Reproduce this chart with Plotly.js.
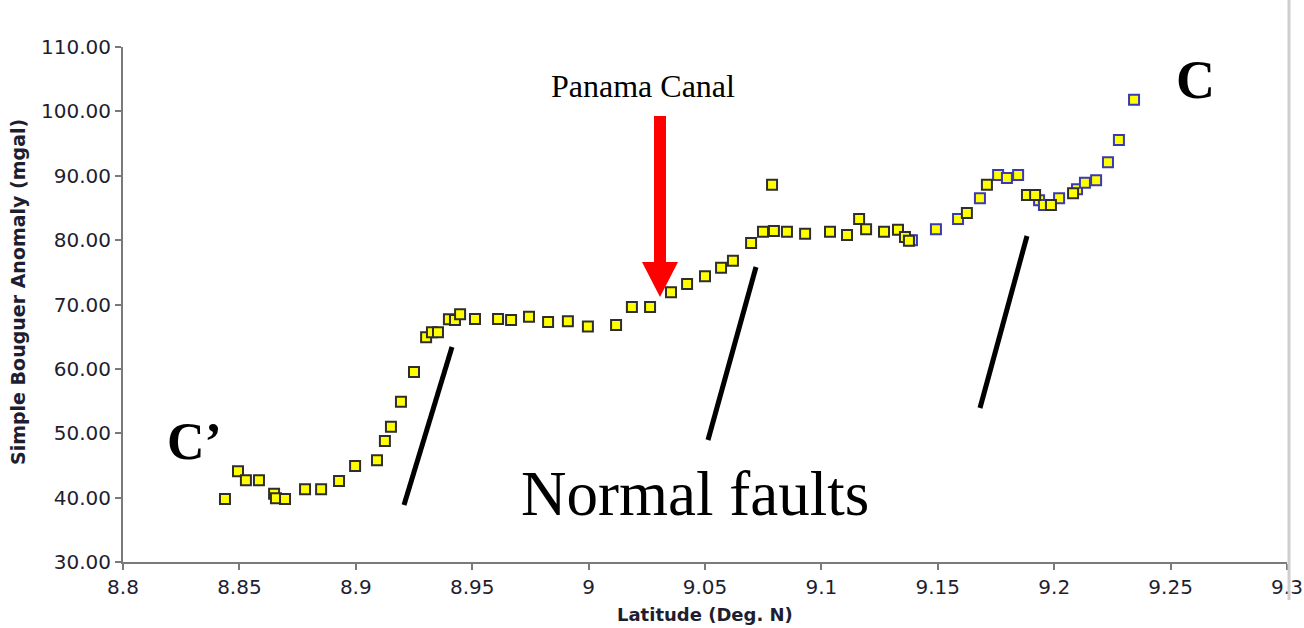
<!DOCTYPE html>
<html>
<head>
<meta charset="utf-8">
<script src="https://cdn.plot.ly/plotly-3.0.1.min.js"></script>
<style>html,body{margin:0;padding:0;background:#fff}#chart{width:1304px;height:628px}</style>
</head>
<body>
<div id="chart"></div>
<script>
// Series with dark-bordered markers
const latBlack = [8.8438, 8.8494, 8.8528, 8.8584, 8.8649, 8.8657, 8.8696, 8.8782, 8.8851, 8.8928,
  8.8997, 8.9091, 8.9125, 8.9151, 8.9194, 8.9250, 8.9302, 8.9327, 8.9353, 8.9400,
  8.9426, 8.9448, 8.9512, 8.9611, 8.9667, 8.9744, 8.9826, 8.9911, 8.9997, 9.0118,
  9.0186, 9.0264, 9.0354, 9.0423, 9.0500, 9.0569, 9.0620, 9.0698, 9.0749, 9.0788,
  9.0796, 9.0852, 9.0930, 9.1037, 9.1110, 9.1162, 9.1192, 9.1269, 9.1329, 9.1359,
  9.1376, 9.1625, 9.1711, 9.1883, 9.1918, 9.1986, 9.2081];
const sbaBlack = [39.8, 44.1, 42.7, 42.7, 40.6, 39.9, 39.8, 41.3, 41.3, 42.6,
  44.9, 45.8, 48.8, 51.0, 54.9, 59.5, 64.9, 65.7, 65.7, 67.7,
  67.6, 68.5, 67.75, 67.75, 67.6, 68.1, 67.3, 67.4, 66.6, 66.8,
  69.6, 69.6, 71.9, 73.2, 74.4, 75.7, 76.8, 79.55, 81.3, 88.6,
  81.4, 81.3, 81.0, 81.3, 80.8, 83.3, 81.7, 81.3, 81.6, 80.5,
  79.9, 84.2, 88.6, 87.0, 87.0, 85.45, 87.3];
// Series with blue-bordered markers
const latBlue = [9.1389, 9.1492, 9.1587, 9.1681, 9.1759, 9.1797, 9.1845, 9.1935, 9.1956, 9.2021,
  9.2098, 9.2132, 9.2180, 9.2231, 9.2278, 9.2343];
const sbaBlue = [80.0, 81.7, 83.3, 86.5, 90.1, 89.65, 90.1, 86.2, 85.45, 86.5,
  87.9, 88.9, 89.3, 92.1, 95.55, 101.8];

const xTitle = 'Latitude (Deg. N)';
const yTitle = 'Simple Bouguer Anomaly (mgal)';

// pixel -> paper helpers for decorations
const L = 123, T = 47, PW = 1164, PH = 515;
const px = p => (p - L) / PW;
const py = p => (T + PH - p) / PH;

const markerBase = {symbol: 'square', size: 10, color: '#ffff00'};
const traces = [
  {x: latBlue, y: sbaBlue, mode: 'markers', type: 'scatter', cliponaxis: false,
   marker: Object.assign({}, markerBase, {line: {color: '#3a3ab4', width: 2}})},
  {x: latBlack, y: sbaBlack, mode: 'markers', type: 'scatter', cliponaxis: false,
   marker: Object.assign({}, markerBase, {line: {color: '#2e2e2e', width: 2}})}
];

const tickFont = {family: 'DejaVu Sans', size: 20, color: '#1e1e30'};
const seg = (x0, y0, x1, y1) => ({type: 'line', xref: 'paper', yref: 'paper',
  x0: px(x0), y0: py(y0), x1: px(x1), y1: py(y1), line: {color: '#000', width: 5}});

const arrowPath = 'M ' + px(654) + ',' + py(116) + ' L ' + px(666) + ',' + py(116) +
  ' L ' + px(666) + ',' + py(262) + ' L ' + px(678) + ',' + py(262) +
  ' L ' + px(660) + ',' + py(297) + ' L ' + px(642) + ',' + py(262) +
  ' L ' + px(654) + ',' + py(262) + ' Z';

const layout = {
  width: 1304, height: 628,
  margin: {l: L, r: 1304 - L - PW, t: T, b: 628 - T - PH},
  paper_bgcolor: '#ffffff', plot_bgcolor: '#ffffff',
  showlegend: false,
  xaxis: {range: [8.8, 9.3], tick0: 8.8, dtick: 0.05, showgrid: false, zeroline: false,
    showline: true, linecolor: '#7a7a7a', linewidth: 2, ticks: 'outside', ticklen: 6,
    tickcolor: '#7a7a7a', tickwidth: 2, tickfont: tickFont},
  yaxis: {range: [30, 110], dtick: 10, tickformat: '.2f', showgrid: false, zeroline: false,
    showline: true, linecolor: '#7a7a7a', linewidth: 2, ticks: 'outside', ticklen: 6,
    tickcolor: '#7a7a7a', tickwidth: 2, tickfont: tickFont},
  shapes: [
    seg(404, 505, 452, 347),
    seg(708, 440, 756, 267),
    seg(980, 408, 1027, 236),
    {type: 'path', xref: 'paper', yref: 'paper', path: arrowPath,
     fillcolor: '#ff0000', line: {width: 0}},
    {type: 'line', xref: 'paper', yref: 'paper', x0: px(1289), x1: px(1289), y0: py(0), y1: py(600),
     line: {color: '#cfcfcf', width: 3}}
  ],
  annotations: [
    {text: '<b>' + yTitle + '</b>', xref: 'paper', yref: 'paper', x: px(18), y: py(292),
     xanchor: 'center', yanchor: 'middle', textangle: -90, showarrow: false,
     font: {family: 'DejaVu Sans', size: 19, color: '#1e1e30'}},
    {text: '<b>' + xTitle + '</b>', xref: 'paper', yref: 'paper', x: px(705), y: py(627),
     xanchor: 'center', yanchor: 'bottom', showarrow: false,
     font: {family: 'DejaVu Sans', size: 18, color: '#1e1e30'}},
    {text: 'Panama Canal', xref: 'paper', yref: 'paper', x: px(643), y: py(86), xanchor: 'center', yanchor: 'middle',
     showarrow: false, font: {family: 'Liberation Serif', size: 32, color: '#000'}},
    {text: '<b>C</b>', xref: 'paper', yref: 'paper', x: px(1195), y: py(80), xanchor: 'center', yanchor: 'middle',
     showarrow: false, font: {family: 'Liberation Serif', size: 54, color: '#000'}},
    {text: '<b>C\u2019</b>', xref: 'paper', yref: 'paper', x: px(194), y: py(441), xanchor: 'center', yanchor: 'middle',
     showarrow: false, font: {family: 'Liberation Serif', size: 52, color: '#000'}},
    {text: 'Normal faults', xref: 'paper', yref: 'paper', x: px(695), y: py(494), xanchor: 'center', yanchor: 'middle',
     showarrow: false, font: {family: 'Liberation Serif', size: 63, color: '#000'}}
  ]
};

Plotly.newPlot('chart', traces, layout, {displayModeBar: false, staticPlot: true});
</script>
</body>
</html>
